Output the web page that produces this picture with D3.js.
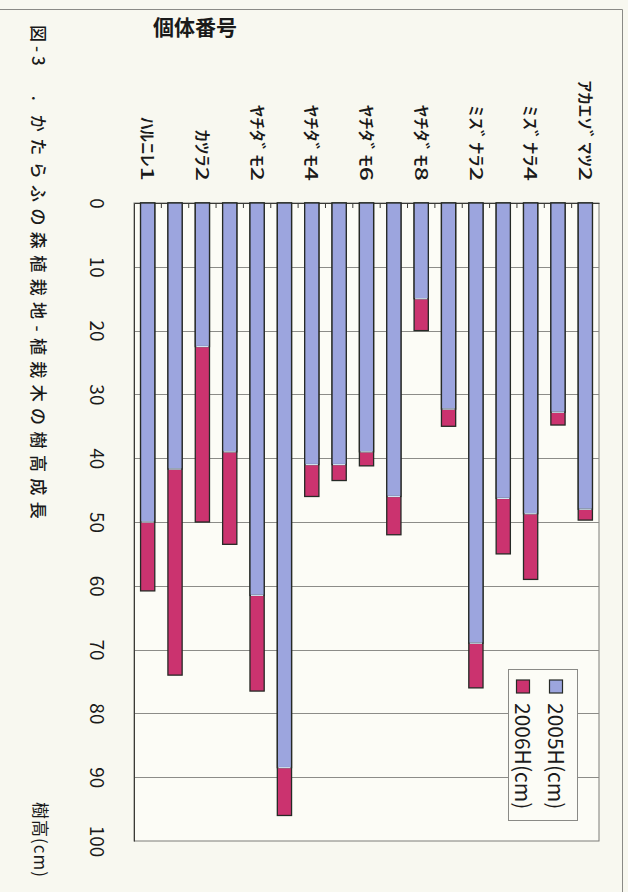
<!DOCTYPE html>
<html>
<head>
<meta charset="utf-8">
<script src="https://cdn.jsdelivr.net/npm/d3@7/dist/d3.min.js"></script>
<style>
  html, body { margin: 0; padding: 0; background: #f8f8f0; }
  svg { display: block; }
  text { font-family: "Noto Sans CJK JP", "Noto Sans", sans-serif; fill: #1a1a1a; }
</style>
</head>
<body>
<script>
// Individual trees (個体番号); only every other label is printed on the axis
const categories = [
  "ﾊﾙﾆﾚ1", "ｶﾂﾗ1", "ｶﾂﾗ2", "ﾔﾁﾀﾞﾓ1", "ﾔﾁﾀﾞﾓ2", "ﾔﾁﾀﾞﾓ3", "ﾔﾁﾀﾞﾓ4", "ﾔﾁﾀﾞﾓ5",
  "ﾔﾁﾀﾞﾓ6", "ﾔﾁﾀﾞﾓ7", "ﾔﾁﾀﾞﾓ8", "ﾐｽﾞﾅﾗ1", "ﾐｽﾞﾅﾗ2", "ﾐｽﾞﾅﾗ3", "ﾐｽﾞﾅﾗ4",
  "ｱｶｴｿﾞﾏﾂ1", "ｱｶｴｿﾞﾏﾂ2"
];
// Tree height in cm, 2005 and 2006 surveys
const h2005 = [50, 41.7, 22.5, 39, 61.5, 88.5, 41, 41, 39, 46, 15, 32.3, 69, 46.3, 48.7, 32.8, 48];
const h2006 = [60.8, 74, 50, 53.5, 76.5, 96, 46, 43.5, 41.2, 52, 20, 35, 76, 55, 59, 34.8, 49.7];
const valueTicks = [0, 10, 20, 30, 40, 50, 60, 70, 80, 90, 100];
const seriesNames = ["2005H(cm)", "2006H(cm)"];
const titleParts = ["図-3", ".", "かたらふの森植栽地-植栽木の樹高成長"];
const valueAxisTitle = "樹高(cm)";
const categoryAxisTitle = "個体番号";

const W = 628, H = 892;
const plot = { left: 134, right: 599, top: 203, bottom: 841 };
const colBlue = "#9ca5de", colPink = "#cb336f", colEdge = "#262a26";

const svg = d3.select("body").append("svg").attr("width", W).attr("height", H);

// Outer chart frame
svg.append("path")
  .attr("d", `M0,9.5 H622.5 V${H}`)
  .attr("fill", "none").attr("stroke", "#8a8a86").attr("stroke-width", 1);

const x = d3.scaleBand().domain(categories)
  .range([plot.left, plot.right]).paddingInner(0.48).paddingOuter(0.24);
const y = d3.scaleLinear().domain([0, 100]).range([plot.top, plot.bottom]);

// Plot area
svg.append("rect")
  .attr("x", plot.left).attr("y", plot.top)
  .attr("width", plot.right - plot.left).attr("height", plot.bottom - plot.top)
  .attr("fill", "#fcfcf6").attr("stroke", "#7d7d78").attr("stroke-width", 1);

// Gridlines
svg.append("g").selectAll("line")
  .data(valueTicks.filter(v => v > 0 && v < 100))
  .join("line")
  .attr("x1", plot.left).attr("x2", plot.right)
  .attr("y1", d => Math.round(y(d)) + 0.5).attr("y2", d => Math.round(y(d)) + 0.5)
  .attr("stroke", "#8c8c88").attr("stroke-width", 1);

// Value axis (drawn down the left edge)
const yAxis = svg.append("g")
  .attr("transform", `translate(${plot.left},0)`)
  .call(d3.axisLeft(y).tickValues(valueTicks).tickSize(0).tickPadding(0));
yAxis.select(".domain").attr("stroke", "#3a3a36");
yAxis.selectAll(".tick text")
  .attr("x", null).attr("dy", null)
  .attr("transform", "translate(-37,0) rotate(90)")
  .attr("text-anchor", "middle")
  .attr("dy", "0.36em")
  .style("font-size", "19px")
  .attr("fill", "#222");

// Category axis along the top edge
const xAxis = svg.append("g")
  .attr("transform", `translate(0,${plot.top})`)
  .call(d3.axisTop(x).tickValues(categories.filter((c, i) => i % 2 === 0)).tickSize(0).tickPadding(0));
xAxis.select(".domain").attr("stroke", "#3a3a36");
xAxis.selectAll(".tick text")
  .attr("y", null).attr("dy", null)
  .attr("transform", "translate(0,-22) rotate(90) scale(1.42,1)")
  .attr("text-anchor", "end")
  .attr("dy", "0.36em")
  .style("font-size", "17.5px")
  .style("font-weight", "500")
  .attr("fill", "#222");

// Tick marks at category boundaries, pointing into the plot
const step = x.step();
const edges = categories.map((c, i) => plot.left + i * step).slice(1);
svg.append("g").selectAll("line").data(edges).join("line")
  .attr("x1", d => d).attr("x2", d => d)
  .attr("y1", plot.top).attr("y2", plot.top + 5)
  .attr("stroke", "#3a3a36").attr("stroke-width", 1);

// Bars: 2006 height behind, 2005 height in front (full overlap)
const rows = categories.map((c, i) => ({ c, a: h2005[i], b: h2006[i] }));
const bars = svg.append("g");
bars.selectAll("rect.b2006").data(rows).join("rect")
  .attr("class", "b2006")
  .attr("x", d => x(d.c)).attr("width", x.bandwidth())
  .attr("y", y(0)).attr("height", d => y(d.b) - y(0))
  .attr("fill", colPink).attr("stroke", colEdge).attr("stroke-width", 1.3);
bars.selectAll("rect.b2005").data(rows).join("rect")
  .attr("class", "b2005")
  .attr("x", d => x(d.c)).attr("width", x.bandwidth())
  .attr("y", y(0)).attr("height", d => y(d.a) - y(0))
  .attr("fill", colBlue).attr("stroke", colEdge).attr("stroke-width", 1.3);
bars.selectAll("line.cap").data(rows).join("line")
  .attr("class", "cap")
  .attr("x1", d => x(d.c) + 1).attr("x2", d => x(d.c) + x.bandwidth() - 1)
  .attr("y1", d => y(d.a)).attr("y2", d => y(d.a))
  .attr("stroke", "#cfe2ee").attr("stroke-width", 1.2);

// Legend
const lg = svg.append("g");
lg.append("rect").attr("x", 508.5).attr("y", 669.5).attr("width", 69).attr("height", 151)
  .attr("fill", "#fcfcf6").attr("stroke", "#8a8a86").attr("stroke-width", 1);
const legendItems = [
  { name: seriesNames[0], color: colBlue, cx: 556 },
  { name: seriesNames[1], color: colPink, cx: 523 }
];
legendItems.forEach(it => {
  lg.append("rect").attr("x", it.cx - 6.5).attr("y", 680).attr("width", 13).attr("height", 13)
    .attr("fill", it.color).attr("stroke", colEdge).attr("stroke-width", 1.2);
  lg.append("text")
    .attr("transform", `translate(${it.cx},703) rotate(90)`)
    .attr("dy", "0.36em")
    .style("font-size", "21px")
    .text(it.name);
});

// Chart title, set in three runs along the left margin
const title = svg.append("text")
  .attr("transform", "translate(38,25) rotate(90)")
  .attr("dy", "0.36em")
  .style("font-size", "17px")
  .style("font-weight", "500");
title.append("tspan").style("letter-spacing", "4px").text(titleParts[0]);
title.append("tspan").attr("dx", 26).text(titleParts[1]);
title.append("tspan").attr("dx", 14).style("letter-spacing", "6.4px").text(titleParts[2]);

// Value axis title
svg.append("text")
  .attr("transform", "translate(40,802) rotate(90)")
  .attr("dy", "0.36em")
  .style("font-size", "17px")
  .style("letter-spacing", "1px")
  .text(valueAxisTitle);

// Category axis title
svg.append("text")
  .attr("x", 153).attr("y", 35)
  .style("font-size", "21px")
  .style("font-weight", "bold")
  .text(categoryAxisTitle);
</script>
</body>
</html>
